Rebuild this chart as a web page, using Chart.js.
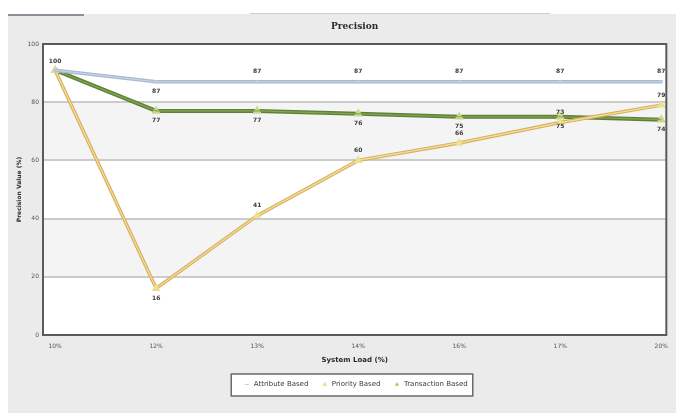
<!DOCTYPE html>
<html>
<head>
<meta charset="utf-8">
<script src="https://cdn.jsdelivr.net/npm/chart.js@4"></script>
<style>
  html, body { margin: 0; padding: 0; background: #fff; }
  body { width: 676px; height: 413px; position: relative; overflow: hidden; font-family: "DejaVu Sans", sans-serif; }
  #panel { position: absolute; left: 8px; top: 14px; width: 668px; height: 399px; background: #ebebeb; }
  #tab { position: absolute; left: 8px; top: 14px; width: 76px; height: 2px; background: #8a8f99; }
  #topline { position: absolute; left: 250px; top: 13px; width: 300px; height: 1px; background: #c9d0dc; }
</style>
</head>
<body>
<div id="panel"><canvas id="c" width="668" height="399"></canvas></div>
<div id="tab"></div>
<div id="topline"></div>
<script>
  // categories and series
  const loadLabels = ["10%", "12%", "13%", "14%", "16%", "17%", "20%"];
  const attributeBased = [91, 87, 87, 87, 87, 87, 87];
  const priorityBased = [91, 16, 41, 60, 66, 73, 79];
  const transactionBased = [91, 77, 77, 76, 75, 75, 74];
  const yTicks = [0, 20, 40, 60, 80, 100];

  function toXY(arr) {
    return arr.map((v, i) => ({ x: i, y: v }));
  }

  // white plot, light grey bands, grid + dark frame
  const bandsPlugin = {
    id: "bands",
    beforeDatasetsDraw(chart) {
      const { ctx, chartArea: a, scales: { y } } = chart;
      ctx.save();
      ctx.fillStyle = "#ffffff";
      ctx.fillRect(a.left, a.top, a.right - a.left, a.bottom - a.top);
      [[60, 80], [20, 40]].forEach(([lo, hi]) => {
        const t = y.getPixelForValue(hi);
        const b = y.getPixelForValue(lo);
        ctx.fillStyle = "#f4f4f4";
        ctx.fillRect(a.left, t, a.right - a.left, b - t);
      });
      ctx.strokeStyle = "#cbcbcb";
      ctx.lineWidth = 2;
      [20, 40, 60, 80].forEach((v) => {
        const py = Math.round(y.getPixelForValue(v));
        ctx.beginPath();
        ctx.moveTo(a.left, py);
        ctx.lineTo(a.right, py);
        ctx.stroke();
      });
      ctx.restore();
    },
    afterDatasetsDraw(chart) {
      const { ctx, chartArea: a } = chart;
      ctx.save();
      ctx.strokeStyle = "#5a5a5a";
      ctx.lineWidth = 2;
      ctx.strokeRect(a.left, a.top, a.right - a.left, a.bottom - a.top);
      ctx.restore();
    },
  };

  // lighter core line over each series (the double stroke look)
  const coreLinePlugin = {
    id: "coreLine",
    afterDatasetDraw(chart, args) {
      const ds = chart.data.datasets[args.index];
      if (!ds.coreColor) return;
      const pts = args.meta.data;
      const ctx = chart.ctx;
      ctx.save();
      ctx.strokeStyle = ds.coreColor;
      ctx.lineWidth = ds.coreWidth || 1;
      ctx.beginPath();
      pts.forEach((p, i) => (i ? ctx.lineTo(p.x, p.y) : ctx.moveTo(p.x, p.y)));
      ctx.stroke();
      ctx.restore();
    },
  };

  // value labels next to the points
  const valueLabelPlugin = {
    id: "valueLabels",
    afterDatasetsDraw(chart) {
      const ctx = chart.ctx;
      ctx.save();
      ctx.font = "bold 6px 'DejaVu Sans'";
      ctx.fillStyle = "#3a3a3a";
      ctx.textAlign = "center";
      ctx.textBaseline = "middle";
      chart.data.datasets.forEach((ds, di) => {
        const meta = chart.getDatasetMeta(di);
        const vals = ds.data.map((d) => d.y);
        const min = Math.min(...vals);
        meta.data.forEach((p, i) => {
          if (i === 0 && di > 0) return;
          let below = ds.labelBelow;
          if (ds.label === "Attribute Based" && i === 1) below = true;
          if (ds.label === "Priority Based" && vals[i] === min) below = true;
          const txt = i === 0 ? "100" : String(Math.round(vals[i]));
          const dy = i === 0 ? -9 : below ? 10 : -10;
          ctx.fillText(txt, p.x, p.y + dy);
        });
      });
      ctx.restore();
    },
  };

  const LEGEND_SHIFT = 17;

  // title centered over the plot, white legend box
  const frameTextPlugin = {
    id: "frameText",
    beforeDraw(chart) {
      const ctx = chart.ctx;
      const lg = chart.legend;
      if (lg && lg.legendHitBoxes && lg.legendHitBoxes.length) {
        lg.left += LEGEND_SHIFT;
        lg.right += LEGEND_SHIFT;
        lg.legendHitBoxes.forEach((b) => (b.left += LEGEND_SHIFT));
        const boxes = lg.legendHitBoxes;
        const l = Math.min(...boxes.map((b) => b.left)) - 12;
        const r = Math.max(...boxes.map((b) => b.left + b.width)) + 5;
        const t = Math.min(...boxes.map((b) => b.top)) - 7;
        const bt = Math.max(...boxes.map((b) => b.top + b.height)) + 8;
        ctx.save();
        ctx.fillStyle = "#ffffff";
        ctx.fillRect(l, t, r - l, bt - t);
        ctx.strokeStyle = "#6a6a6a";
        ctx.lineWidth = 1.5;
        ctx.strokeRect(l, t, r - l, bt - t);
        ctx.restore();
      }
      const a = chart.chartArea;
      ctx.save();
      ctx.font = "bold 9px 'DejaVu Serif'";
      ctx.fillStyle = "#2a2a2a";
      ctx.textAlign = "center";
      ctx.textBaseline = "middle";
      ctx.fillText("Precision", (a.left + a.right) / 2, 13);
      ctx.restore();
    },
  };

  new Chart(document.getElementById("c"), {
    type: "line",
    data: {
      datasets: [
        {
          label: "Attribute Based",
          data: toXY(attributeBased),
          borderColor: "#a9b9cf",
          backgroundColor: "#c9d6e6",
          borderWidth: 3.5,
          coreColor: "#c9d6e6",
          coreWidth: 1,
          pointStyle: "line",
          pointRadius: 1.5,
          pointBorderColor: "#b9c6d8",
          labelBelow: false,
        },
        {
          label: "Priority Based",
          data: toXY(priorityBased),
          borderColor: "#d6ae68",
          backgroundColor: "#e6e07a",
          borderWidth: 3.5,
          coreColor: "#f6e28e",
          coreWidth: 1.2,
          pointStyle: "triangle",
          pointRadius: 1.5,
          pointBorderColor: "#e8e08a",
          labelBelow: false,
        },
        {
          label: "Transaction Based",
          data: toXY(transactionBased),
          borderColor: "#5f803c",
          backgroundColor: "#a4b46a",
          borderWidth: 4,
          coreColor: "#86a848",
          coreWidth: 1.2,
          pointStyle: "triangle",
          pointRadius: 1.5,
          pointBorderColor: "#c9d98a",
          labelBelow: true,
        },
      ],
    },
    options: {
      responsive: false,
      animation: false,
      layout: { padding: { left: 0, right: 7, top: 30, bottom: 15 } },
      plugins: {
        title: { display: false },
        tooltip: { enabled: false },
        legend: {
          position: "bottom",
          labels: {
            usePointStyle: true,
            boxHeight: 3,
            padding: 13,
            color: "#3a3a3a",
            font: { size: 7, family: "'DejaVu Sans'" },
            generateLabels(chart) {
              const items = Chart.defaults.plugins.legend.labels.generateLabels(chart);
              items.forEach((it) => (it.lineWidth = 0.8));
              return items;
            },
          },
        },
      },
      scales: {
        x: {
          type: "linear",
          min: -0.12,
          max: 6.05,
          afterBuildTicks(scale) {
            scale.ticks = loadLabels.map((_, i) => ({ value: i }));
          },
          afterFit(scale) {
            scale.height = 33;
          },
          grid: { display: false, drawTicks: false },
          border: { display: false },
          ticks: {
            padding: 8,
            color: "#555",
            font: { size: 6, family: "'DejaVu Sans'" },
            maxRotation: 0,
            callback: (v) => loadLabels[v],
          },
          title: {
            display: true,
            text: "System Load (%)",
            color: "#2a2a2a",
            font: { size: 7, weight: "bold", family: "'DejaVu Sans'" },
            padding: { top: 2 },
          },
        },
        y: {
          min: 0,
          max: 100,
          afterBuildTicks(scale) {
            scale.ticks = yTicks.map((v) => ({ value: v }));
          },
          afterFit(scale) {
            scale.width = 35;
          },
          grid: { display: false, drawTicks: false },
          border: { display: false },
          ticks: {
            padding: 4,
            color: "#555",
            font: { size: 6, family: "'DejaVu Sans'" },
          },
          title: {
            display: true,
            text: "Precision Value (%)",
            color: "#2a2a2a",
            font: { size: 6, weight: "bold", family: "'DejaVu Sans'" },
            padding: { bottom: 0, top: 8 },
          },
        },
      },
    },
    plugins: [frameTextPlugin, bandsPlugin, coreLinePlugin, valueLabelPlugin],
  });
</script>
</body>
</html>
